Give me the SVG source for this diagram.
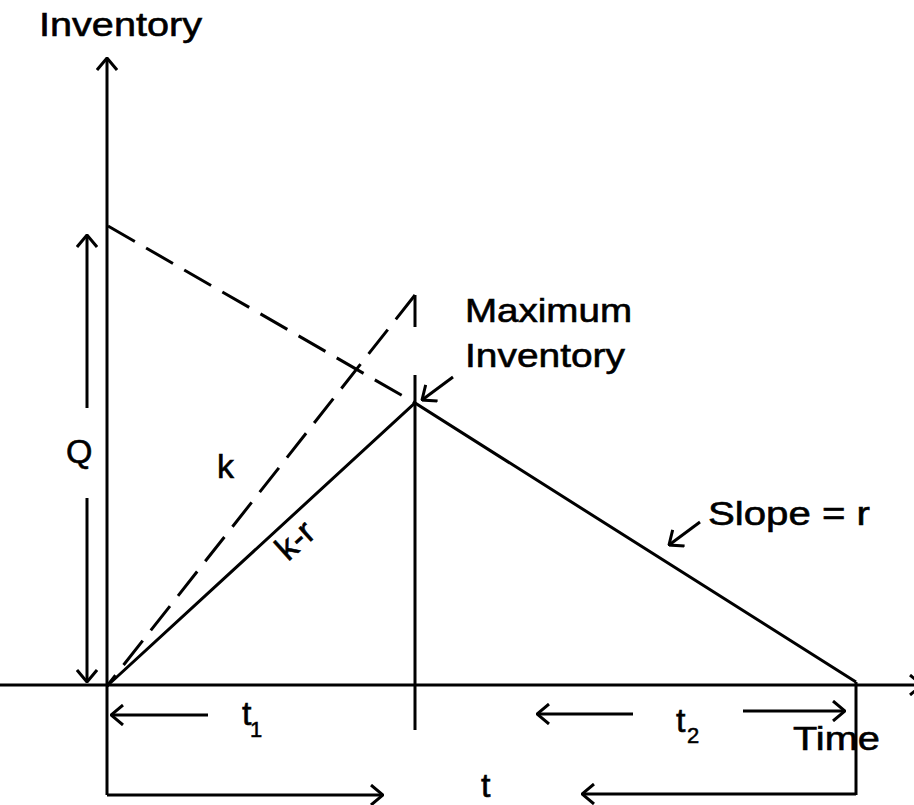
<svg xmlns="http://www.w3.org/2000/svg" width="914" height="805" viewBox="0 0 914 805">
<defs>
<marker id="arr" viewBox="0 0 14 22" refX="13" refY="11" markerWidth="14" markerHeight="22" markerUnits="userSpaceOnUse" orient="auto-start-reverse">
<path d="M1,1 L13,11 L1,21" fill="none" stroke="#000" stroke-width="3"/>
</marker>
<style>
.ln{stroke:#000;stroke-width:3;fill:none}
.ds{stroke:#000;stroke-width:3;fill:none;stroke-dasharray:31 13}
.tx{font-family:"Liberation Sans",Arial,sans-serif;font-size:34px;fill:#000;stroke:#000;stroke-width:0.6}
.sb{font-family:"Liberation Sans",Arial,sans-serif;font-size:22px;fill:#000;stroke:#000;stroke-width:0.5}
</style>
</defs>
<rect width="914" height="805" fill="#fff"/>
<g id="connectors">
<line class="ln" x1="107" y1="58" x2="107" y2="795" marker-start="url(#arr)"/>
<line class="ln" x1="0" y1="685" x2="922" y2="685" marker-end="url(#arr)"/>
<line class="ln" x1="87" y1="235" x2="87" y2="408" marker-start="url(#arr)"/>
<line class="ln" x1="87" y1="498" x2="87" y2="682" marker-end="url(#arr)"/>
<line class="ds" x1="108" y1="226" x2="415" y2="403"/>
<line class="ds" x1="415" y1="295" x2="107" y2="686"/>
<line class="ln" x1="415" y1="295" x2="415" y2="327"/>
<polyline class="ln" points="107,686 415,403 856,682"/>
<line class="ln" x1="415" y1="375" x2="415" y2="730"/>
<line class="ln" x1="856" y1="682" x2="856" y2="795"/>
<line class="ln" x1="208" y1="715" x2="111" y2="715" marker-end="url(#arr)"/>
<line class="ln" x1="633" y1="714" x2="537" y2="714" marker-end="url(#arr)"/>
<line class="ln" x1="743" y1="711" x2="845" y2="711" marker-end="url(#arr)"/>
<line class="ln" x1="107" y1="795" x2="383" y2="795" marker-end="url(#arr)"/>
<line class="ln" x1="856" y1="794" x2="582" y2="794" marker-end="url(#arr)"/>
<line class="ln" x1="453" y1="377" x2="422" y2="400" marker-end="url(#arr)"/>
<line class="ln" x1="700" y1="522" x2="669" y2="545" marker-end="url(#arr)"/>
</g>
<g id="label-inventory-axis"><text class="tx" x="39" y="36" textLength="163" lengthAdjust="spacingAndGlyphs">Inventory</text></g>
<g id="label-max"><text class="tx" x="465" y="322" textLength="167" lengthAdjust="spacingAndGlyphs">Maximum</text><text class="tx" x="465" y="367" textLength="160" lengthAdjust="spacingAndGlyphs">Inventory</text></g>
<g id="label-q"><text class="tx" x="66" y="463">Q</text></g>
<g id="label-k"><text class="tx" x="217" y="478">k</text></g>
<g id="label-kr"><text class="tx" x="288" y="562" transform="rotate(-42 288 562)">k-r</text></g>
<g id="label-slope"><text class="tx" x="708" y="525" textLength="162" lengthAdjust="spacingAndGlyphs">Slope = r</text></g>
<g id="label-time"><text class="tx" x="793" y="750" textLength="87" lengthAdjust="spacingAndGlyphs">Time</text></g>
<g id="label-t1"><text class="tx" x="242" y="725">t</text><text class="sb" x="250" y="737">1</text></g>
<g id="label-t2"><text class="tx" x="676" y="732">t</text><text class="sb" x="687" y="743">2</text></g>
<g id="label-t"><text class="tx" x="481" y="797" font-size="32">t</text></g>
</svg>
